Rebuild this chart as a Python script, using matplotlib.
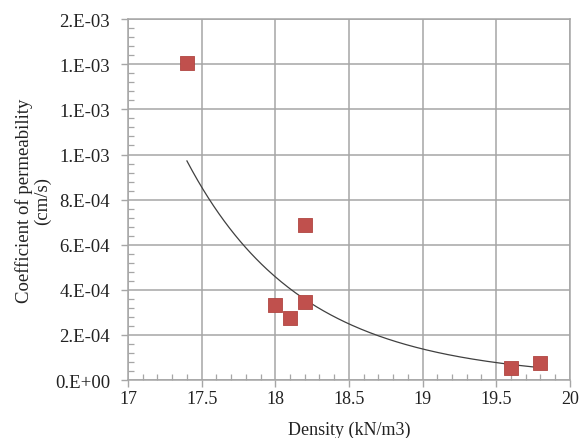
import numpy as np
import matplotlib
matplotlib.use("Agg")
import matplotlib.pyplot as plt
from matplotlib.ticker import MultipleLocator, FuncFormatter

density = [17.4, 18.0, 18.1, 18.2, 18.2, 19.6, 19.8]
permeability = [1.405e-3, 3.33e-4, 2.75e-4, 3.46e-4, 6.87e-4, 5.3e-5, 7.5e-5]

# power trendline y = exp(trend_lnk) * x**trend_p
trend_lnk = 56.477
trend_p = -22.2

plt.rcParams['font.family'] = ['Liberation Serif', 'DejaVu Serif']

fig = plt.figure(figsize=(5.82, 4.39), dpi=100)
ax = fig.add_axes([0.22, 0.132, 0.759, 0.822])

gcol = '#a6a6a6'
ax.grid(True, which='major', color=gcol, linewidth=1.1)
ax.set_axisbelow(True)

x = np.array(density)
xs = np.linspace(x.min(), x.max(), 200)
ax.plot(xs, np.exp(trend_lnk) * xs ** trend_p, color='#404040',
        linewidth=0.9, zorder=3)

ax.scatter(density, permeability, marker='s', s=95, color='#c0504d',
           edgecolor='#b04541', linewidth=0.6, zorder=4)

ax.set_xlim(17, 20)
ax.set_ylim(0, 1.6e-3)
ax.xaxis.set_major_locator(MultipleLocator(0.5))
ax.xaxis.set_minor_locator(MultipleLocator(0.1))
ax.yaxis.set_major_locator(MultipleLocator(2e-4))
ax.yaxis.set_minor_locator(MultipleLocator(4e-5))

def yfmt(v, pos):
    if abs(v) < 1e-12:
        return '0.E+00'
    e = int(np.floor(np.log10(abs(v))))
    m = v / 10**e
    mi = int(round(m))
    if mi == 10:
        mi = 1
        e += 1
    sign = '-' if e < 0 else '+'
    return f'{mi}.E{sign}{abs(e):02d}'

def xfmt(v, pos):
    return f'{v:g}'

ax.yaxis.set_major_formatter(FuncFormatter(yfmt))
ax.xaxis.set_major_formatter(FuncFormatter(xfmt))

for s in ax.spines.values():
    s.set_color(gcol)
    s.set_linewidth(1.1)

ax.tick_params(which='major', direction='out', length=5, color=gcol, width=1,
               labelcolor='#222222')
ax.tick_params(axis='y', which='major', labelsize=13.5, pad=8)
ax.tick_params(axis='x', which='major', labelsize=13, pad=2)
ax.tick_params(which='minor', direction='in', length=4, color=gcol, width=0.9)
ax.tick_params(axis='x', which='minor', top=False)

ax.set_xlabel('Density (kN/m3)', fontsize=13, color='#222222', labelpad=10)
ax.set_ylabel('Coefficient of permeability\n(cm/s)', fontsize=13.5,
              color='#222222', labelpad=3, linespacing=1.0)

fig.savefig('out.png', dpi=100)
